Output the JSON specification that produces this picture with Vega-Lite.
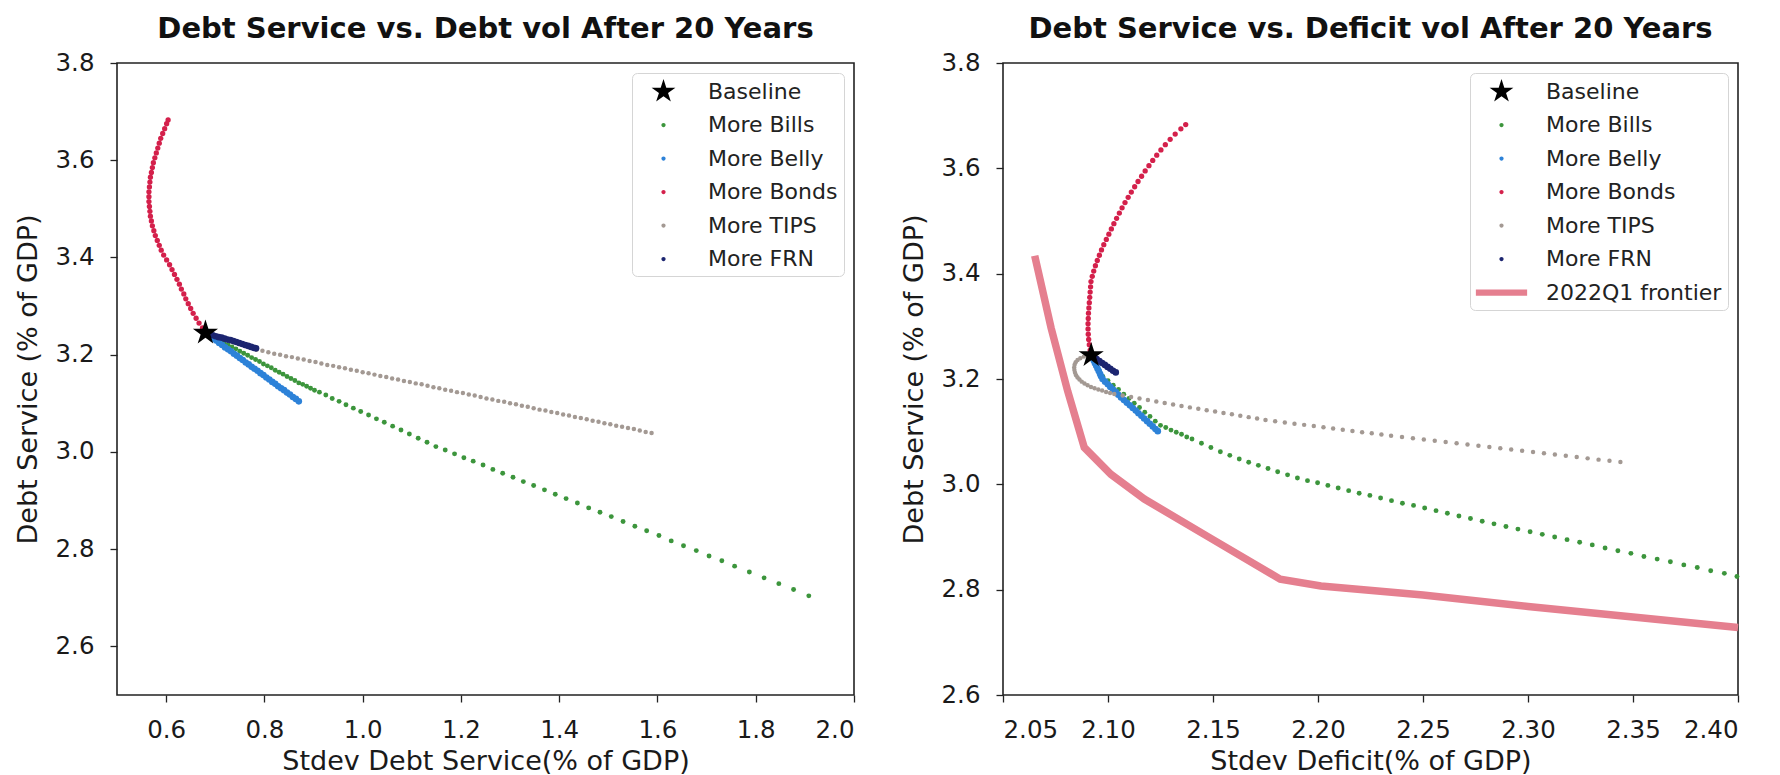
{
"$schema": "https://vega.github.io/schema/vega-lite/v6.json",
"background": "white",
"padding": {"left": 13, "top": 14, "right": 10, "bottom": 0},
"config": {
 "font": "DejaVu Sans",
 "view": {"stroke": "#222222", "strokeWidth": 1.6},
 "axis": {"grid": false, "domain": false, "tickSize": 7, "tickColor": "#222222", "tickWidth": 1.3, "labelFontSize": 24.5, "labelColor": "#1a1a1a", "labelPadding": 16, "titleFontSize": 27, "titleFontWeight": "normal", "titleColor": "#1a1a1a", "labelFont": "DejaVu Sans", "titleFont": "DejaVu Sans"},
 "axisX": {"titlePadding": 7},
 "axisY": {"titlePadding": 13},
 "title": {"fontSize": 29, "fontWeight": "bold", "font": "DejaVu Sans", "color": "#111111", "offset": 6, "anchor": "middle"},
 "legend": {"orient": "top-right", "offset": 10, "padding": 6, "strokeColor": "#d5d5d5", "fillColor": "white", "cornerRadius": 5, "labelFontSize": 22, "labelFont": "DejaVu Sans", "labelColor": "#222222", "symbolSize": 625, "symbolOffset": 13, "labelOffset": 32, "rowPadding": 9.5, "symbolStrokeWidth": 0, "symbolOpacity": 1, "labelLimit": 400}
},
"datasets": {
 "frontier": [
  {"x":2.0651,"y":3.434},{"x":2.0729,"y":3.297},{"x":2.0808,"y":3.177},{"x":2.0887,"y":3.070},{"x":2.1014,"y":3.019},{"x":2.1173,"y":2.972},{"x":2.150,"y":2.895},{"x":2.182,"y":2.820},{"x":2.2014,"y":2.807},{"x":2.25,"y":2.790},{"x":2.30,"y":2.768},{"x":2.35,"y":2.748},{"x":2.40,"y":2.728}
 ],
 "pts": [
  {"panel":"L","series":"More Bills","x":0.686,"y":3.242},{"panel":"L","series":"More Bills","x":0.694,"y":3.237},{"panel":"L","series":"More Bills","x":0.702,"y":3.233},{"panel":"L","series":"More Bills","x":0.710,"y":3.229},{"panel":"L","series":"More Bills","x":0.718,"y":3.224},{"panel":"L","series":"More Bills","x":0.726,"y":3.220},{"panel":"L","series":"More Bills","x":0.734,"y":3.216},{"panel":"L","series":"More Bills","x":0.742,"y":3.212},{"panel":"L","series":"More Bills","x":0.750,"y":3.207},{"panel":"L","series":"More Bills","x":0.758,"y":3.203},{"panel":"L","series":"More Bills","x":0.766,"y":3.199},{"panel":"L","series":"More Bills","x":0.774,"y":3.194},{"panel":"L","series":"More Bills","x":0.782,"y":3.190},{"panel":"L","series":"More Bills","x":0.790,"y":3.186},{"panel":"L","series":"More Bills","x":0.798,"y":3.181},{"panel":"L","series":"More Bills","x":0.806,"y":3.177},{"panel":"L","series":"More Bills","x":0.814,"y":3.173},{"panel":"L","series":"More Bills","x":0.822,"y":3.168},{"panel":"L","series":"More Bills","x":0.830,"y":3.164},{"panel":"L","series":"More Bills","x":0.838,"y":3.160},{"panel":"L","series":"More Bills","x":0.846,"y":3.155},{"panel":"L","series":"More Bills","x":0.854,"y":3.151},{"panel":"L","series":"More Bills","x":0.862,"y":3.147},{"panel":"L","series":"More Bills","x":0.870,"y":3.142},{"panel":"L","series":"More Bills","x":0.878,"y":3.139},{"panel":"L","series":"More Bills","x":0.886,"y":3.135},{"panel":"L","series":"More Bills","x":0.894,"y":3.131},{"panel":"L","series":"More Bills","x":0.902,"y":3.127},{"panel":"L","series":"More Bills","x":0.912,"y":3.123},{"panel":"L","series":"More Bills","x":0.925,"y":3.117},{"panel":"L","series":"More Bills","x":0.938,"y":3.110},{"panel":"L","series":"More Bills","x":0.952,"y":3.104},{"panel":"L","series":"More Bills","x":0.966,"y":3.097},{"panel":"L","series":"More Bills","x":0.981,"y":3.090},{"panel":"L","series":"More Bills","x":0.996,"y":3.083},{"panel":"L","series":"More Bills","x":1.012,"y":3.076},{"panel":"L","series":"More Bills","x":1.028,"y":3.068},{"panel":"L","series":"More Bills","x":1.044,"y":3.061},{"panel":"L","series":"More Bills","x":1.061,"y":3.053},{"panel":"L","series":"More Bills","x":1.078,"y":3.045},{"panel":"L","series":"More Bills","x":1.095,"y":3.037},{"panel":"L","series":"More Bills","x":1.113,"y":3.028},{"panel":"L","series":"More Bills","x":1.131,"y":3.020},{"panel":"L","series":"More Bills","x":1.149,"y":3.011},{"panel":"L","series":"More Bills","x":1.168,"y":3.004},{"panel":"L","series":"More Bills","x":1.187,"y":2.996},{"panel":"L","series":"More Bills","x":1.206,"y":2.988},{"panel":"L","series":"More Bills","x":1.225,"y":2.981},{"panel":"L","series":"More Bills","x":1.245,"y":2.973},{"panel":"L","series":"More Bills","x":1.265,"y":2.964},{"panel":"L","series":"More Bills","x":1.285,"y":2.956},{"panel":"L","series":"More Bills","x":1.306,"y":2.948},{"panel":"L","series":"More Bills","x":1.327,"y":2.939},{"panel":"L","series":"More Bills","x":1.348,"y":2.931},{"panel":"L","series":"More Bills","x":1.370,"y":2.922},{"panel":"L","series":"More Bills","x":1.392,"y":2.913},{"panel":"L","series":"More Bills","x":1.414,"y":2.904},{"panel":"L","series":"More Bills","x":1.437,"y":2.895},{"panel":"L","series":"More Bills","x":1.460,"y":2.885},{"panel":"L","series":"More Bills","x":1.483,"y":2.876},{"panel":"L","series":"More Bills","x":1.506,"y":2.867},{"panel":"L","series":"More Bills","x":1.530,"y":2.857},{"panel":"L","series":"More Bills","x":1.554,"y":2.847},{"panel":"L","series":"More Bills","x":1.578,"y":2.838},{"panel":"L","series":"More Bills","x":1.603,"y":2.828},{"panel":"L","series":"More Bills","x":1.628,"y":2.817},{"panel":"L","series":"More Bills","x":1.653,"y":2.807},{"panel":"L","series":"More Bills","x":1.679,"y":2.797},{"panel":"L","series":"More Bills","x":1.705,"y":2.786},{"panel":"L","series":"More Bills","x":1.731,"y":2.776},{"panel":"L","series":"More Bills","x":1.757,"y":2.765},{"panel":"L","series":"More Bills","x":1.787,"y":2.753},{"panel":"L","series":"More Bills","x":1.817,"y":2.741},{"panel":"L","series":"More Bills","x":1.847,"y":2.729},{"panel":"L","series":"More Bills","x":1.877,"y":2.717},{"panel":"L","series":"More Bills","x":1.908,"y":2.704},
  {"panel":"R","series":"More Bills","x":2.0975,"y":3.205},{"panel":"R","series":"More Bills","x":2.1000,"y":3.197},{"panel":"R","series":"More Bills","x":2.1025,"y":3.188},{"panel":"R","series":"More Bills","x":2.1050,"y":3.180},{"panel":"R","series":"More Bills","x":2.1075,"y":3.171},{"panel":"R","series":"More Bills","x":2.1100,"y":3.163},{"panel":"R","series":"More Bills","x":2.1125,"y":3.154},{"panel":"R","series":"More Bills","x":2.1150,"y":3.146},{"panel":"R","series":"More Bills","x":2.1175,"y":3.137},{"panel":"R","series":"More Bills","x":2.1200,"y":3.129},{"panel":"R","series":"More Bills","x":2.1225,"y":3.120},{"panel":"R","series":"More Bills","x":2.1250,"y":3.112},{"panel":"R","series":"More Bills","x":2.1275,"y":3.108},{"panel":"R","series":"More Bills","x":2.1300,"y":3.103},{"panel":"R","series":"More Bills","x":2.1325,"y":3.099},{"panel":"R","series":"More Bills","x":2.1350,"y":3.095},{"panel":"R","series":"More Bills","x":2.1375,"y":3.090},{"panel":"R","series":"More Bills","x":2.1400,"y":3.086},{"panel":"R","series":"More Bills","x":2.1445,"y":3.078},{"panel":"R","series":"More Bills","x":2.1490,"y":3.070},{"panel":"R","series":"More Bills","x":2.1535,"y":3.062},{"panel":"R","series":"More Bills","x":2.1580,"y":3.055},{"panel":"R","series":"More Bills","x":2.1625,"y":3.048},{"panel":"R","series":"More Bills","x":2.1670,"y":3.042},{"panel":"R","series":"More Bills","x":2.1716,"y":3.036},{"panel":"R","series":"More Bills","x":2.1762,"y":3.030},{"panel":"R","series":"More Bills","x":2.1808,"y":3.024},{"panel":"R","series":"More Bills","x":2.1855,"y":3.018},{"panel":"R","series":"More Bills","x":2.1902,"y":3.012},{"panel":"R","series":"More Bills","x":2.1950,"y":3.007},{"panel":"R","series":"More Bills","x":2.1998,"y":3.003},{"panel":"R","series":"More Bills","x":2.2047,"y":2.998},{"panel":"R","series":"More Bills","x":2.2096,"y":2.993},{"panel":"R","series":"More Bills","x":2.2146,"y":2.988},{"panel":"R","series":"More Bills","x":2.2196,"y":2.983},{"panel":"R","series":"More Bills","x":2.2247,"y":2.979},{"panel":"R","series":"More Bills","x":2.2298,"y":2.974},{"panel":"R","series":"More Bills","x":2.2350,"y":2.969},{"panel":"R","series":"More Bills","x":2.2402,"y":2.964},{"panel":"R","series":"More Bills","x":2.2455,"y":2.960},{"panel":"R","series":"More Bills","x":2.2508,"y":2.955},{"panel":"R","series":"More Bills","x":2.2562,"y":2.950},{"panel":"R","series":"More Bills","x":2.2616,"y":2.945},{"panel":"R","series":"More Bills","x":2.2671,"y":2.940},{"panel":"R","series":"More Bills","x":2.2726,"y":2.935},{"panel":"R","series":"More Bills","x":2.2782,"y":2.930},{"panel":"R","series":"More Bills","x":2.2838,"y":2.925},{"panel":"R","series":"More Bills","x":2.2895,"y":2.920},{"panel":"R","series":"More Bills","x":2.2952,"y":2.915},{"panel":"R","series":"More Bills","x":2.3010,"y":2.910},{"panel":"R","series":"More Bills","x":2.3068,"y":2.905},{"panel":"R","series":"More Bills","x":2.3127,"y":2.900},{"panel":"R","series":"More Bills","x":2.3186,"y":2.895},{"panel":"R","series":"More Bills","x":2.3246,"y":2.890},{"panel":"R","series":"More Bills","x":2.3306,"y":2.885},{"panel":"R","series":"More Bills","x":2.3367,"y":2.879},{"panel":"R","series":"More Bills","x":2.3428,"y":2.874},{"panel":"R","series":"More Bills","x":2.3490,"y":2.869},{"panel":"R","series":"More Bills","x":2.3552,"y":2.863},{"panel":"R","series":"More Bills","x":2.3615,"y":2.858},{"panel":"R","series":"More Bills","x":2.3678,"y":2.853},{"panel":"R","series":"More Bills","x":2.3742,"y":2.847},{"panel":"R","series":"More Bills","x":2.3806,"y":2.842},{"panel":"R","series":"More Bills","x":2.3870,"y":2.836},{"panel":"R","series":"More Bills","x":2.3935,"y":2.831},{"panel":"R","series":"More Bills","x":2.3995,"y":2.825},
  {"panel":"L","series":"More Belly","x":0.684,"y":3.242},{"panel":"L","series":"More Belly","x":0.690,"y":3.238},{"panel":"L","series":"More Belly","x":0.696,"y":3.233},{"panel":"L","series":"More Belly","x":0.702,"y":3.229},{"panel":"L","series":"More Belly","x":0.708,"y":3.224},{"panel":"L","series":"More Belly","x":0.714,"y":3.220},{"panel":"L","series":"More Belly","x":0.720,"y":3.215},{"panel":"L","series":"More Belly","x":0.726,"y":3.211},{"panel":"L","series":"More Belly","x":0.732,"y":3.207},{"panel":"L","series":"More Belly","x":0.738,"y":3.202},{"panel":"L","series":"More Belly","x":0.744,"y":3.198},{"panel":"L","series":"More Belly","x":0.750,"y":3.193},{"panel":"L","series":"More Belly","x":0.756,"y":3.189},{"panel":"L","series":"More Belly","x":0.762,"y":3.184},{"panel":"L","series":"More Belly","x":0.768,"y":3.180},{"panel":"L","series":"More Belly","x":0.774,"y":3.175},{"panel":"L","series":"More Belly","x":0.780,"y":3.171},{"panel":"L","series":"More Belly","x":0.786,"y":3.167},{"panel":"L","series":"More Belly","x":0.792,"y":3.162},{"panel":"L","series":"More Belly","x":0.798,"y":3.158},{"panel":"L","series":"More Belly","x":0.804,"y":3.153},{"panel":"L","series":"More Belly","x":0.810,"y":3.149},{"panel":"L","series":"More Belly","x":0.816,"y":3.144},{"panel":"L","series":"More Belly","x":0.822,"y":3.140},{"panel":"L","series":"More Belly","x":0.828,"y":3.135},{"panel":"L","series":"More Belly","x":0.834,"y":3.131},{"panel":"L","series":"More Belly","x":0.840,"y":3.127},{"panel":"L","series":"More Belly","x":0.846,"y":3.122},{"panel":"L","series":"More Belly","x":0.852,"y":3.118},{"panel":"L","series":"More Belly","x":0.858,"y":3.113},{"panel":"L","series":"More Belly","x":0.864,"y":3.109},{"panel":"L","series":"More Belly","x":0.870,"y":3.104},
  {"panel":"R","series":"More Belly","x":2.0926,"y":3.240},{"panel":"R","series":"More Belly","x":2.0932,"y":3.235},{"panel":"R","series":"More Belly","x":2.0938,"y":3.230},{"panel":"R","series":"More Belly","x":2.0944,"y":3.225},{"panel":"R","series":"More Belly","x":2.0950,"y":3.220},{"panel":"R","series":"More Belly","x":2.0956,"y":3.215},{"panel":"R","series":"More Belly","x":2.0962,"y":3.210},{"panel":"R","series":"More Belly","x":2.0967,"y":3.205},{"panel":"R","series":"More Belly","x":2.0974,"y":3.200},{"panel":"R","series":"More Belly","x":2.0986,"y":3.195},{"panel":"R","series":"More Belly","x":2.0999,"y":3.190},{"panel":"R","series":"More Belly","x":2.1011,"y":3.185},{"panel":"R","series":"More Belly","x":2.1024,"y":3.180},{"panel":"R","series":"More Belly","x":2.1037,"y":3.175},{"panel":"R","series":"More Belly","x":2.1049,"y":3.170},{"panel":"R","series":"More Belly","x":2.1062,"y":3.165},{"panel":"R","series":"More Belly","x":2.1076,"y":3.160},{"panel":"R","series":"More Belly","x":2.1090,"y":3.155},{"panel":"R","series":"More Belly","x":2.1104,"y":3.150},{"panel":"R","series":"More Belly","x":2.1118,"y":3.145},{"panel":"R","series":"More Belly","x":2.1132,"y":3.140},{"panel":"R","series":"More Belly","x":2.1145,"y":3.135},{"panel":"R","series":"More Belly","x":2.1159,"y":3.130},{"panel":"R","series":"More Belly","x":2.1172,"y":3.125},{"panel":"R","series":"More Belly","x":2.1186,"y":3.120},{"panel":"R","series":"More Belly","x":2.1199,"y":3.115},{"panel":"R","series":"More Belly","x":2.1213,"y":3.110},{"panel":"R","series":"More Belly","x":2.1226,"y":3.105},{"panel":"R","series":"More Belly","x":2.1237,"y":3.101},
  {"panel":"L","series":"More Bonds","x":0.680,"y":3.245},{"panel":"L","series":"More Bonds","x":0.674,"y":3.255},{"panel":"L","series":"More Bonds","x":0.667,"y":3.265},{"panel":"L","series":"More Bonds","x":0.661,"y":3.275},{"panel":"L","series":"More Bonds","x":0.655,"y":3.285},{"panel":"L","series":"More Bonds","x":0.650,"y":3.295},{"panel":"L","series":"More Bonds","x":0.645,"y":3.305},{"panel":"L","series":"More Bonds","x":0.640,"y":3.315},{"panel":"L","series":"More Bonds","x":0.636,"y":3.325},{"panel":"L","series":"More Bonds","x":0.631,"y":3.335},{"panel":"L","series":"More Bonds","x":0.627,"y":3.345},{"panel":"L","series":"More Bonds","x":0.622,"y":3.355},{"panel":"L","series":"More Bonds","x":0.617,"y":3.365},{"panel":"L","series":"More Bonds","x":0.612,"y":3.375},{"panel":"L","series":"More Bonds","x":0.607,"y":3.385},{"panel":"L","series":"More Bonds","x":0.601,"y":3.395},{"panel":"L","series":"More Bonds","x":0.595,"y":3.405},{"panel":"L","series":"More Bonds","x":0.590,"y":3.415},{"panel":"L","series":"More Bonds","x":0.586,"y":3.425},{"panel":"L","series":"More Bonds","x":0.582,"y":3.435},{"panel":"L","series":"More Bonds","x":0.578,"y":3.445},{"panel":"L","series":"More Bonds","x":0.575,"y":3.455},{"panel":"L","series":"More Bonds","x":0.572,"y":3.465},{"panel":"L","series":"More Bonds","x":0.570,"y":3.475},{"panel":"L","series":"More Bonds","x":0.568,"y":3.485},{"panel":"L","series":"More Bonds","x":0.567,"y":3.495},{"panel":"L","series":"More Bonds","x":0.566,"y":3.505},{"panel":"L","series":"More Bonds","x":0.565,"y":3.515},{"panel":"L","series":"More Bonds","x":0.565,"y":3.525},{"panel":"L","series":"More Bonds","x":0.565,"y":3.535},{"panel":"L","series":"More Bonds","x":0.566,"y":3.545},{"panel":"L","series":"More Bonds","x":0.567,"y":3.555},{"panel":"L","series":"More Bonds","x":0.568,"y":3.565},{"panel":"L","series":"More Bonds","x":0.570,"y":3.575},{"panel":"L","series":"More Bonds","x":0.572,"y":3.585},{"panel":"L","series":"More Bonds","x":0.574,"y":3.595},{"panel":"L","series":"More Bonds","x":0.577,"y":3.605},{"panel":"L","series":"More Bonds","x":0.580,"y":3.615},{"panel":"L","series":"More Bonds","x":0.583,"y":3.625},{"panel":"L","series":"More Bonds","x":0.586,"y":3.635},{"panel":"L","series":"More Bonds","x":0.589,"y":3.645},{"panel":"L","series":"More Bonds","x":0.593,"y":3.655},{"panel":"L","series":"More Bonds","x":0.597,"y":3.665},{"panel":"L","series":"More Bonds","x":0.601,"y":3.675},{"panel":"L","series":"More Bonds","x":0.604,"y":3.683},
  {"panel":"R","series":"More Bonds","x":2.0920,"y":3.245},{"panel":"R","series":"More Bonds","x":2.0915,"y":3.255},{"panel":"R","series":"More Bonds","x":2.0911,"y":3.265},{"panel":"R","series":"More Bonds","x":2.0908,"y":3.275},{"panel":"R","series":"More Bonds","x":2.0906,"y":3.285},{"panel":"R","series":"More Bonds","x":2.0905,"y":3.295},{"panel":"R","series":"More Bonds","x":2.0905,"y":3.305},{"panel":"R","series":"More Bonds","x":2.0906,"y":3.315},{"panel":"R","series":"More Bonds","x":2.0907,"y":3.325},{"panel":"R","series":"More Bonds","x":2.0909,"y":3.335},{"panel":"R","series":"More Bonds","x":2.0911,"y":3.345},{"panel":"R","series":"More Bonds","x":2.0913,"y":3.355},{"panel":"R","series":"More Bonds","x":2.0915,"y":3.365},{"panel":"R","series":"More Bonds","x":2.0917,"y":3.375},{"panel":"R","series":"More Bonds","x":2.0919,"y":3.385},{"panel":"R","series":"More Bonds","x":2.0925,"y":3.395},{"panel":"R","series":"More Bonds","x":2.0932,"y":3.405},{"panel":"R","series":"More Bonds","x":2.0940,"y":3.415},{"panel":"R","series":"More Bonds","x":2.0949,"y":3.425},{"panel":"R","series":"More Bonds","x":2.0959,"y":3.435},{"panel":"R","series":"More Bonds","x":2.0969,"y":3.445},{"panel":"R","series":"More Bonds","x":2.0980,"y":3.455},{"panel":"R","series":"More Bonds","x":2.0992,"y":3.465},{"panel":"R","series":"More Bonds","x":2.1004,"y":3.475},{"panel":"R","series":"More Bonds","x":2.1016,"y":3.485},{"panel":"R","series":"More Bonds","x":2.1028,"y":3.495},{"panel":"R","series":"More Bonds","x":2.1041,"y":3.505},{"panel":"R","series":"More Bonds","x":2.1054,"y":3.515},{"panel":"R","series":"More Bonds","x":2.1067,"y":3.525},{"panel":"R","series":"More Bonds","x":2.1081,"y":3.535},{"panel":"R","series":"More Bonds","x":2.1096,"y":3.545},{"panel":"R","series":"More Bonds","x":2.1111,"y":3.555},{"panel":"R","series":"More Bonds","x":2.1127,"y":3.565},{"panel":"R","series":"More Bonds","x":2.1143,"y":3.575},{"panel":"R","series":"More Bonds","x":2.1160,"y":3.585},{"panel":"R","series":"More Bonds","x":2.1177,"y":3.595},{"panel":"R","series":"More Bonds","x":2.1195,"y":3.605},{"panel":"R","series":"More Bonds","x":2.1213,"y":3.615},{"panel":"R","series":"More Bonds","x":2.1232,"y":3.625},{"panel":"R","series":"More Bonds","x":2.1252,"y":3.635},{"panel":"R","series":"More Bonds","x":2.1273,"y":3.645},{"panel":"R","series":"More Bonds","x":2.1296,"y":3.655},{"panel":"R","series":"More Bonds","x":2.1320,"y":3.665},{"panel":"R","series":"More Bonds","x":2.1347,"y":3.675},{"panel":"R","series":"More Bonds","x":2.1370,"y":3.683},
  {"panel":"L","series":"More TIPS","x":0.700,"y":3.238},{"panel":"L","series":"More TIPS","x":0.712,"y":3.234},{"panel":"L","series":"More TIPS","x":0.724,"y":3.230},{"panel":"L","series":"More TIPS","x":0.736,"y":3.226},{"panel":"L","series":"More TIPS","x":0.748,"y":3.222},{"panel":"L","series":"More TIPS","x":0.760,"y":3.218},{"panel":"L","series":"More TIPS","x":0.772,"y":3.214},{"panel":"L","series":"More TIPS","x":0.784,"y":3.210},{"panel":"L","series":"More TIPS","x":0.796,"y":3.208},{"panel":"L","series":"More TIPS","x":0.808,"y":3.205},{"panel":"L","series":"More TIPS","x":0.820,"y":3.202},{"panel":"L","series":"More TIPS","x":0.832,"y":3.200},{"panel":"L","series":"More TIPS","x":0.844,"y":3.197},{"panel":"L","series":"More TIPS","x":0.856,"y":3.195},{"panel":"L","series":"More TIPS","x":0.868,"y":3.192},{"panel":"L","series":"More TIPS","x":0.880,"y":3.190},{"panel":"L","series":"More TIPS","x":0.892,"y":3.187},{"panel":"L","series":"More TIPS","x":0.904,"y":3.185},{"panel":"L","series":"More TIPS","x":0.916,"y":3.182},{"panel":"L","series":"More TIPS","x":0.928,"y":3.179},{"panel":"L","series":"More TIPS","x":0.940,"y":3.177},{"panel":"L","series":"More TIPS","x":0.952,"y":3.174},{"panel":"L","series":"More TIPS","x":0.964,"y":3.172},{"panel":"L","series":"More TIPS","x":0.976,"y":3.169},{"panel":"L","series":"More TIPS","x":0.988,"y":3.167},{"panel":"L","series":"More TIPS","x":1.000,"y":3.164},{"panel":"L","series":"More TIPS","x":1.012,"y":3.162},{"panel":"L","series":"More TIPS","x":1.024,"y":3.159},{"panel":"L","series":"More TIPS","x":1.036,"y":3.156},{"panel":"L","series":"More TIPS","x":1.048,"y":3.154},{"panel":"L","series":"More TIPS","x":1.060,"y":3.151},{"panel":"L","series":"More TIPS","x":1.072,"y":3.149},{"panel":"L","series":"More TIPS","x":1.084,"y":3.146},{"panel":"L","series":"More TIPS","x":1.096,"y":3.144},{"panel":"L","series":"More TIPS","x":1.108,"y":3.141},{"panel":"L","series":"More TIPS","x":1.120,"y":3.139},{"panel":"L","series":"More TIPS","x":1.132,"y":3.136},{"panel":"L","series":"More TIPS","x":1.144,"y":3.133},{"panel":"L","series":"More TIPS","x":1.156,"y":3.131},{"panel":"L","series":"More TIPS","x":1.168,"y":3.128},{"panel":"L","series":"More TIPS","x":1.180,"y":3.126},{"panel":"L","series":"More TIPS","x":1.192,"y":3.123},{"panel":"L","series":"More TIPS","x":1.204,"y":3.121},{"panel":"L","series":"More TIPS","x":1.216,"y":3.118},{"panel":"L","series":"More TIPS","x":1.228,"y":3.116},{"panel":"L","series":"More TIPS","x":1.240,"y":3.113},{"panel":"L","series":"More TIPS","x":1.252,"y":3.110},{"panel":"L","series":"More TIPS","x":1.264,"y":3.108},{"panel":"L","series":"More TIPS","x":1.276,"y":3.105},{"panel":"L","series":"More TIPS","x":1.288,"y":3.103},{"panel":"L","series":"More TIPS","x":1.300,"y":3.100},{"panel":"L","series":"More TIPS","x":1.312,"y":3.098},{"panel":"L","series":"More TIPS","x":1.324,"y":3.095},{"panel":"L","series":"More TIPS","x":1.336,"y":3.093},{"panel":"L","series":"More TIPS","x":1.348,"y":3.090},{"panel":"L","series":"More TIPS","x":1.360,"y":3.087},{"panel":"L","series":"More TIPS","x":1.372,"y":3.085},{"panel":"L","series":"More TIPS","x":1.384,"y":3.082},{"panel":"L","series":"More TIPS","x":1.396,"y":3.080},{"panel":"L","series":"More TIPS","x":1.408,"y":3.077},{"panel":"L","series":"More TIPS","x":1.420,"y":3.075},{"panel":"L","series":"More TIPS","x":1.432,"y":3.072},{"panel":"L","series":"More TIPS","x":1.444,"y":3.070},{"panel":"L","series":"More TIPS","x":1.456,"y":3.067},{"panel":"L","series":"More TIPS","x":1.468,"y":3.064},{"panel":"L","series":"More TIPS","x":1.480,"y":3.062},{"panel":"L","series":"More TIPS","x":1.492,"y":3.059},{"panel":"L","series":"More TIPS","x":1.504,"y":3.057},{"panel":"L","series":"More TIPS","x":1.516,"y":3.054},{"panel":"L","series":"More TIPS","x":1.528,"y":3.052},{"panel":"L","series":"More TIPS","x":1.540,"y":3.049},{"panel":"L","series":"More TIPS","x":1.552,"y":3.047},{"panel":"L","series":"More TIPS","x":1.564,"y":3.044},{"panel":"L","series":"More TIPS","x":1.576,"y":3.041},{"panel":"L","series":"More TIPS","x":1.588,"y":3.039},
  {"panel":"R","series":"More TIPS","x":2.0905,"y":3.2445},{"panel":"R","series":"More TIPS","x":2.0885,"y":3.2425},{"panel":"R","series":"More TIPS","x":2.0868,"y":3.2395},{"panel":"R","series":"More TIPS","x":2.0855,"y":3.236},{"panel":"R","series":"More TIPS","x":2.0846,"y":3.232},{"panel":"R","series":"More TIPS","x":2.0841,"y":3.227},{"panel":"R","series":"More TIPS","x":2.0839,"y":3.222},{"panel":"R","series":"More TIPS","x":2.0840,"y":3.217},{"panel":"R","series":"More TIPS","x":2.0843,"y":3.212},{"panel":"R","series":"More TIPS","x":2.0848,"y":3.207},{"panel":"R","series":"More TIPS","x":2.0855,"y":3.203},{"panel":"R","series":"More TIPS","x":2.0864,"y":3.199},{"panel":"R","series":"More TIPS","x":2.0875,"y":3.195},{"panel":"R","series":"More TIPS","x":2.0888,"y":3.1915},{"panel":"R","series":"More TIPS","x":2.0903,"y":3.188},{"panel":"R","series":"More TIPS","x":2.0919,"y":3.185},{"panel":"R","series":"More TIPS","x":2.0936,"y":3.1825},{"panel":"R","series":"More TIPS","x":2.0954,"y":3.180},{"panel":"R","series":"More TIPS","x":2.0972,"y":3.178},{"panel":"R","series":"More TIPS","x":2.0991,"y":3.1755},{"panel":"R","series":"More TIPS","x":2.1010,"y":3.1735},{"panel":"R","series":"More TIPS","x":2.1030,"y":3.1715},{"panel":"R","series":"More TIPS","x":2.1070,"y":3.1687},{"panel":"R","series":"More TIPS","x":2.1110,"y":3.1658},{"panel":"R","series":"More TIPS","x":2.1150,"y":3.1630},{"panel":"R","series":"More TIPS","x":2.1190,"y":3.1601},{"panel":"R","series":"More TIPS","x":2.1230,"y":3.1573},{"panel":"R","series":"More TIPS","x":2.1270,"y":3.1545},{"panel":"R","series":"More TIPS","x":2.1310,"y":3.1516},{"panel":"R","series":"More TIPS","x":2.1350,"y":3.1488},{"panel":"R","series":"More TIPS","x":2.1390,"y":3.1461},{"panel":"R","series":"More TIPS","x":2.1430,"y":3.1434},{"panel":"R","series":"More TIPS","x":2.1470,"y":3.1408},{"panel":"R","series":"More TIPS","x":2.1510,"y":3.1382},{"panel":"R","series":"More TIPS","x":2.1550,"y":3.1355},{"panel":"R","series":"More TIPS","x":2.1590,"y":3.1329},{"panel":"R","series":"More TIPS","x":2.1630,"y":3.1302},{"panel":"R","series":"More TIPS","x":2.1670,"y":3.1276},{"panel":"R","series":"More TIPS","x":2.1710,"y":3.1249},{"panel":"R","series":"More TIPS","x":2.1750,"y":3.1223},{"panel":"R","series":"More TIPS","x":2.1796,"y":3.1198},{"panel":"R","series":"More TIPS","x":2.1842,"y":3.1175},{"panel":"R","series":"More TIPS","x":2.1888,"y":3.1152},{"panel":"R","series":"More TIPS","x":2.1934,"y":3.1129},{"panel":"R","series":"More TIPS","x":2.1980,"y":3.1106},{"panel":"R","series":"More TIPS","x":2.2026,"y":3.1083},{"panel":"R","series":"More TIPS","x":2.2072,"y":3.1060},{"panel":"R","series":"More TIPS","x":2.2118,"y":3.1037},{"panel":"R","series":"More TIPS","x":2.2164,"y":3.1014},{"panel":"R","series":"More TIPS","x":2.2210,"y":3.0991},{"panel":"R","series":"More TIPS","x":2.2256,"y":3.0968},{"panel":"R","series":"More TIPS","x":2.2302,"y":3.0945},{"panel":"R","series":"More TIPS","x":2.2348,"y":3.0924},{"panel":"R","series":"More TIPS","x":2.2400,"y":3.0900},{"panel":"R","series":"More TIPS","x":2.2452,"y":3.0876},{"panel":"R","series":"More TIPS","x":2.2504,"y":3.0852},{"panel":"R","series":"More TIPS","x":2.2556,"y":3.0828},{"panel":"R","series":"More TIPS","x":2.2608,"y":3.0804},{"panel":"R","series":"More TIPS","x":2.2660,"y":3.0780},{"panel":"R","series":"More TIPS","x":2.2712,"y":3.0757},{"panel":"R","series":"More TIPS","x":2.2764,"y":3.0733},{"panel":"R","series":"More TIPS","x":2.2816,"y":3.0709},{"panel":"R","series":"More TIPS","x":2.2868,"y":3.0685},{"panel":"R","series":"More TIPS","x":2.2920,"y":3.0661},{"panel":"R","series":"More TIPS","x":2.2972,"y":3.0637},{"panel":"R","series":"More TIPS","x":2.3024,"y":3.0613},{"panel":"R","series":"More TIPS","x":2.3076,"y":3.0589},{"panel":"R","series":"More TIPS","x":2.3128,"y":3.0565},{"panel":"R","series":"More TIPS","x":2.3180,"y":3.0541},{"panel":"R","series":"More TIPS","x":2.3232,"y":3.0517},{"panel":"R","series":"More TIPS","x":2.3284,"y":3.0493},{"panel":"R","series":"More TIPS","x":2.3336,"y":3.0469},{"panel":"R","series":"More TIPS","x":2.3388,"y":3.0446},{"panel":"R","series":"More TIPS","x":2.3440,"y":3.0422},
  {"panel":"L","series":"More FRN","x":0.683,"y":3.244},{"panel":"L","series":"More FRN","x":0.689,"y":3.242},{"panel":"L","series":"More FRN","x":0.695,"y":3.240},{"panel":"L","series":"More FRN","x":0.701,"y":3.238},{"panel":"L","series":"More FRN","x":0.707,"y":3.236},{"panel":"L","series":"More FRN","x":0.713,"y":3.235},{"panel":"L","series":"More FRN","x":0.719,"y":3.233},{"panel":"L","series":"More FRN","x":0.725,"y":3.231},{"panel":"L","series":"More FRN","x":0.731,"y":3.230},{"panel":"L","series":"More FRN","x":0.737,"y":3.228},{"panel":"L","series":"More FRN","x":0.743,"y":3.226},{"panel":"L","series":"More FRN","x":0.749,"y":3.224},{"panel":"L","series":"More FRN","x":0.755,"y":3.222},{"panel":"L","series":"More FRN","x":0.761,"y":3.220},{"panel":"L","series":"More FRN","x":0.767,"y":3.218},{"panel":"L","series":"More FRN","x":0.773,"y":3.216},{"panel":"L","series":"More FRN","x":0.779,"y":3.214},{"panel":"L","series":"More FRN","x":0.783,"y":3.213},
  {"panel":"R","series":"More FRN","x":2.0933,"y":3.2413},{"panel":"R","series":"More FRN","x":2.0946,"y":3.2377},{"panel":"R","series":"More FRN","x":2.0959,"y":3.2340},{"panel":"R","series":"More FRN","x":2.0972,"y":3.2303},{"panel":"R","series":"More FRN","x":2.0985,"y":3.2267},{"panel":"R","series":"More FRN","x":2.0998,"y":3.2230},{"panel":"R","series":"More FRN","x":2.1011,"y":3.2194},{"panel":"R","series":"More FRN","x":2.1024,"y":3.2157},{"panel":"R","series":"More FRN","x":2.1037,"y":3.2125},
  {"panel":"L","series":"Baseline","x":0.680,"y":3.245},
  {"panel":"R","series":"Baseline","x":2.092,"y":3.245}
 ]
},
"hconcat": [
 {
  "width": 737, "height": 632,
  "title": "Debt Service vs. Debt vol After 20 Years",
  "layer": [
   {
    "data": {"name": "pts"},
    "transform": [{"filter": "datum.panel === 'L' && datum.series !== 'Baseline'"}],
    "mark": {"type": "point", "filled": true, "shape": "circle", "opacity": 1, "strokeWidth": 0},
    "encoding": {
     "x": {"field": "x", "type": "quantitative", "scale": {"domain": [0.5, 2.0], "nice": false, "zero": false}, "axis": {"values": [0.6, 0.8, 1.0, 1.2, 1.4, 1.6, 1.8, 2.0], "format": ".1f", "title": "Stdev Debt Service(% of GDP)"}},
     "y": {"field": "y", "type": "quantitative", "scale": {"domain": [2.5, 3.8], "nice": false, "zero": false}, "axis": {"values": [2.6, 2.8, 3.0, 3.2, 3.4, 3.6, 3.8], "format": ".1f", "title": "Debt Service (% of GDP)"}},
     "color": {"field": "series", "type": "nominal",
      "scale": {"domain": ["Baseline", "More Bills", "More Belly", "More Bonds", "More TIPS", "More FRN"], "range": ["#000000", "#3c953c", "#2d82d8", "#d4204b", "#a39993", "#1c2570"]},
      "legend": {"title": null, "encode": {"symbols": {"update": {
        "shape": {"signal": "datum.value === 'Baseline' ? 'M0,-1L0.2245,-0.309L0.9511,-0.309L0.3633,0.118L0.5878,0.809L0,0.382L-0.5878,0.809L-0.3633,0.118L-0.9511,-0.309L-0.2245,-0.309Z' : datum.value === '2022Q1 frontier' ? 'M-2.05,-0.25L2.05,-0.25L2.05,0.25L-2.05,0.25Z' : 'M-0.17,0A0.17,0.17,0,1,0,0.17,0A0.17,0.17,0,1,0,-0.17,0Z'"},
        "fill": {"signal": "datum.value === 'Baseline' ? '#000000' : datum.value === 'More Bills' ? '#3c953c' : datum.value === 'More Belly' ? '#2d82d8' : datum.value === 'More Bonds' ? '#d4204b' : datum.value === 'More TIPS' ? '#a39993' : datum.value === 'More FRN' ? '#1c2570' : '#e57f8f'"},
        "stroke": {"value": "transparent"}, "strokeWidth": {"value": 0}, "opacity": {"value": 1}}}}}},
     "size": {"condition": [{"test": "datum.series === 'More Belly'", "value": 44}, {"test": "datum.series === 'More FRN'", "value": 44}, {"test": "datum.series === 'More Bonds'", "value": 28}, {"test": "datum.series === 'More TIPS'", "value": 20}], "value": 24}
    }
   },
   {
    "data": {"name": "pts"},
    "transform": [{"filter": "datum.panel === 'L' && datum.series === 'Baseline'"}],
    "mark": {"type": "point", "filled": true, "opacity": 1, "size": 700, "shape": "M0,-1L0.2245,-0.309L0.9511,-0.309L0.3633,0.118L0.5878,0.809L0,0.382L-0.5878,0.809L-0.3633,0.118L-0.9511,-0.309L-0.2245,-0.309Z"},
    "encoding": {
     "x": {"field": "x", "type": "quantitative"},
     "y": {"field": "y", "type": "quantitative"},
     "color": {"field": "series", "type": "nominal"}
    }
   }
  ]
 },
 {
  "width": 735, "height": 632,
  "title": "Debt Service vs. Deficit vol After 20 Years",
  "layer": [
   {
    "data": {"name": "frontier"},
    "mark": {"type": "line", "color": "#e57f8f", "strokeWidth": 7.5, "strokeCap": "butt"},
    "encoding": {
     "x": {"field": "x", "type": "quantitative", "scale": {"domain": [2.05, 2.40], "nice": false, "zero": false}, "axis": {"values": [2.05, 2.1, 2.15, 2.2, 2.25, 2.3, 2.35, 2.4], "format": ".2f", "title": "Stdev Deficit(% of GDP)"}},
     "y": {"field": "y", "type": "quantitative", "scale": {"domain": [2.6, 3.8], "nice": false, "zero": false}, "axis": {"values": [2.6, 2.8, 3.0, 3.2, 3.4, 3.6, 3.8], "format": ".1f", "title": "Debt Service (% of GDP)"}}
    }
   },
   {
    "data": {"name": "pts"},
    "transform": [{"filter": "datum.panel === 'R' && datum.series !== 'Baseline'"}],
    "mark": {"type": "point", "filled": true, "shape": "circle", "opacity": 1, "strokeWidth": 0},
    "encoding": {
     "x": {"field": "x", "type": "quantitative"},
     "y": {"field": "y", "type": "quantitative"},
     "color": {"field": "series", "type": "nominal",
      "scale": {"domain": ["Baseline", "More Bills", "More Belly", "More Bonds", "More TIPS", "More FRN", "2022Q1 frontier"], "range": ["#000000", "#3c953c", "#2d82d8", "#d4204b", "#a39993", "#1c2570", "#e57f8f"]},
      "legend": {"title": null, "encode": {"symbols": {"update": {
        "shape": {"signal": "datum.value === 'Baseline' ? 'M0,-1L0.2245,-0.309L0.9511,-0.309L0.3633,0.118L0.5878,0.809L0,0.382L-0.5878,0.809L-0.3633,0.118L-0.9511,-0.309L-0.2245,-0.309Z' : datum.value === '2022Q1 frontier' ? 'M-2.05,-0.25L2.05,-0.25L2.05,0.25L-2.05,0.25Z' : 'M-0.17,0A0.17,0.17,0,1,0,0.17,0A0.17,0.17,0,1,0,-0.17,0Z'"},
        "fill": {"signal": "datum.value === 'Baseline' ? '#000000' : datum.value === 'More Bills' ? '#3c953c' : datum.value === 'More Belly' ? '#2d82d8' : datum.value === 'More Bonds' ? '#d4204b' : datum.value === 'More TIPS' ? '#a39993' : datum.value === 'More FRN' ? '#1c2570' : '#e57f8f'"},
        "stroke": {"value": "transparent"}, "strokeWidth": {"value": 0}, "opacity": {"value": 1}}}}}},
     "size": {"condition": [{"test": "datum.series === 'More Belly'", "value": 44}, {"test": "datum.series === 'More FRN'", "value": 44}, {"test": "datum.series === 'More Bonds'", "value": 28}, {"test": "datum.series === 'More TIPS'", "value": 20}], "value": 24}
    }
   },
   {
    "data": {"name": "pts"},
    "transform": [{"filter": "datum.panel === 'R' && datum.series === 'Baseline'"}],
    "mark": {"type": "point", "filled": true, "opacity": 1, "size": 700, "shape": "M0,-1L0.2245,-0.309L0.9511,-0.309L0.3633,0.118L0.5878,0.809L0,0.382L-0.5878,0.809L-0.3633,0.118L-0.9511,-0.309L-0.2245,-0.309Z"},
    "encoding": {
     "x": {"field": "x", "type": "quantitative"},
     "y": {"field": "y", "type": "quantitative"},
     "color": {"field": "series", "type": "nominal"}
    }
   }
  ]
 }
],
"spacing": 149,
"bounds": "flush",
"resolve": {"scale": {"color": "independent", "x": "independent", "y": "independent"}, "legend": {"color": "independent"}}
}
